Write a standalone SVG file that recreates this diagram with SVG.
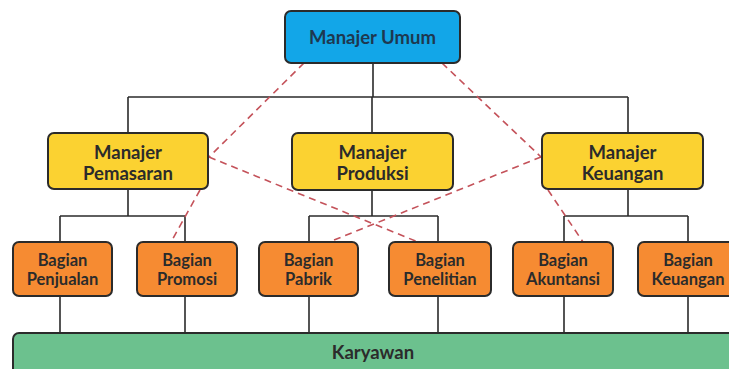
<svg xmlns="http://www.w3.org/2000/svg" width="729" height="369" viewBox="0 0 729 369">
  <style>
    .box { stroke: #2b2b2b; stroke-width: 2; }
    .top { fill: #12a6e8; }
    .mgr { fill: #fbd231; }
    .unit { fill: #f68b32; }
    .base { fill: #6cc18e; }
    .lbl { font-family: Lato, "Open Sans", sans-serif; font-weight: 700; fill: #2b2b2b; text-anchor: middle; }
    .big { font-size: 18.5px; }
    .small { font-size: 16.5px; }
    .tree { stroke: #2b2b2b; stroke-width: 1.6; fill: none; }
    .link { stroke: #c4525a; stroke-width: 1.6; stroke-dasharray: 7 5; fill: none; }
  </style>
  <rect width="729" height="369" fill="#ffffff"/>

  <g id="connectors">
    <!-- solid reporting lines -->
    <path class="tree" d="M373 63 V97 M128 97 H628 M128 97 V133 M372 97 V133 M628 97 V133"/>
    <path class="tree" d="M128 189 V216 M60 216 H185 M60 216 V242 M185 216 V242"/>
    <path class="tree" d="M372 190 V216 M309 216 H438 M309 216 V242 M438 216 V242"/>
    <path class="tree" d="M628 189 V216 M564 216 H688 M564 216 V242 M688 216 V242"/>
    <path class="tree" d="M60 296 V333 M185 296 V333 M309 296 V333 M438 296 V333 M564 296 V333 M688 296 V333"/>
    <!-- dashed coordination lines -->
    <path class="link" d="M304 63 L209 157"/>
    <path class="link" d="M442 63 L541 157"/>
    <path class="link" d="M200 190 L171 242"/>
    <path class="link" d="M209 157 L418 242"/>
    <path class="link" d="M541 157 L329 242"/>
    <path class="link" d="M548 190 L583 242"/>
  </g>

  <g id="manajer-umum">
    <rect class="box top" x="285" y="11" width="175" height="52" rx="6"/>
    <text class="lbl big" x="372.5" y="44" fill="#1e3850" style="fill:#1e3850">Manajer Umum</text>
  </g>

  <g id="manajer-pemasaran">
    <rect class="box mgr" x="48" y="133" width="160" height="56" rx="6"/>
    <text class="lbl big" x="128" y="159">Manajer</text>
    <text class="lbl big" x="128" y="180">Pemasaran</text>
  </g>

  <g id="manajer-produksi">
    <rect class="box mgr" x="292" y="133" width="161" height="57" rx="6"/>
    <text class="lbl big" x="372.5" y="159">Manajer</text>
    <text class="lbl big" x="372.5" y="180">Produksi</text>
  </g>

  <g id="manajer-keuangan">
    <rect class="box mgr" x="542" y="133" width="161" height="56" rx="6"/>
    <text class="lbl big" x="622.5" y="159">Manajer</text>
    <text class="lbl big" x="622.5" y="180">Keuangan</text>
  </g>

  <g id="bagian-penjualan">
    <rect class="box unit" x="13" y="242" width="99" height="54" rx="6"/>
    <text class="lbl small" x="62.5" y="266">Bagian</text>
    <text class="lbl small" x="62.5" y="285">Penjualan</text>
  </g>

  <g id="bagian-promosi">
    <rect class="box unit" x="137" y="242" width="100" height="54" rx="6"/>
    <text class="lbl small" x="187" y="266">Bagian</text>
    <text class="lbl small" x="187" y="285">Promosi</text>
  </g>

  <g id="bagian-pabrik">
    <rect class="box unit" x="259" y="242" width="99" height="54" rx="6"/>
    <text class="lbl small" x="308.5" y="266">Bagian</text>
    <text class="lbl small" x="308.5" y="285">Pabrik</text>
  </g>

  <g id="bagian-penelitian">
    <rect class="box unit" x="389" y="242" width="102" height="54" rx="6"/>
    <text class="lbl small" x="440" y="266">Bagian</text>
    <text class="lbl small" x="440" y="285">Penelitian</text>
  </g>

  <g id="bagian-akuntansi">
    <rect class="box unit" x="513" y="242" width="100" height="54" rx="6"/>
    <text class="lbl small" x="563" y="266">Bagian</text>
    <text class="lbl small" x="563" y="285">Akuntansi</text>
  </g>

  <g id="bagian-keuangan">
    <rect class="box unit" x="638" y="242" width="100" height="54" rx="6"/>
    <text class="lbl small" x="688" y="266">Bagian</text>
    <text class="lbl small" x="688" y="285">Keuangan</text>
  </g>

  <g id="karyawan">
    <rect class="box base" x="13" y="333" width="740" height="60" rx="6"/>
    <text class="lbl big" x="373" y="359">Karyawan</text>
  </g>
</svg>
